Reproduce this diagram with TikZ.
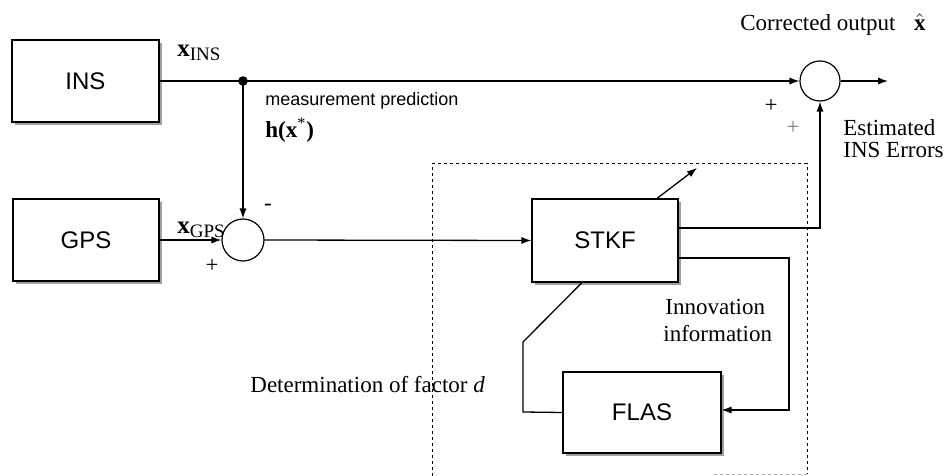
\documentclass[tikz,border=0pt]{standalone}
\usepackage{fontspec}
\setmainfont{Liberation Serif}
\setsansfont{Liberation Sans}
\usetikzlibrary{arrows.meta,shadows,calc}
\begin{document}
\begin{tikzpicture}[x=0.5pt,y=-0.5pt,
  box/.style={draw, line width=0.6pt, fill=white, font=\sffamily\fontsize{12}{14}\selectfont,
    drop shadow={shadow xshift=1.6pt, shadow yshift=-1.6pt, fill=gray!75, opacity=1}},
  sumnode/.style={draw, circle, line width=0.6pt, fill=white, inner sep=0pt},
  conn/.style={line width=0.65pt},
  arr/.style={conn, -{Latex[length=5pt,width=3.6pt]}},
  lbl/.style={font=\fontsize{11.5}{13}\selectfont, inner sep=0pt},
  slbl/.style={font=\sffamily\fontsize{9}{11}\selectfont, inner sep=0pt},
  sublbl/.style={inner sep=0pt},
  dashbox/.style={line width=0.5pt, dash pattern=on 1.5pt off 1.5pt}
]
\useasboundingbox (0,0) rectangle (948,476);

% dashed region
\draw[dashbox] (432,476) -- (432,164) -- (807,164) -- (807,474);
\draw[dashbox, gray!60] (807,474) -- (713,474);

% blocks
\node[box, minimum width=73.5pt, minimum height=41pt] (ins) at (85.5,81) {INS};
\node[box, minimum width=73pt, minimum height=41pt] (gps) at (86,240) {GPS};
\node[box, minimum width=73pt, minimum height=41.5pt] (stkf) at (605,240.5) {STKF};
\node[box, minimum width=79pt, minimum height=40.5pt] (flas) at (642,412.5) {FLAS};

\node[sumnode, minimum size=21pt] (sum1) at (243,240) {};
\node[sumnode, minimum size=20pt] (sum2) at (820,81) {};
\fill (243,81) circle (2.4pt);
\coordinate (dot) at (243,81);
\coordinate (out) at (888,81);

% connectors
\draw[arr] (ins.east) -- (sum2.west);
\draw[arr] (dot) -- (sum1.north);
\draw[arr] (gps.east) -- (sum1.west);
\draw[arr] (sum1.east) -- (stkf.west);
\draw[arr] (sum2.east) -- (out);
\draw[arr] ($(stkf.east)+(0,-12.5)$) -| (sum2.south);
\draw[arr] ($(stkf.east)+(0,17.5)$) -- (789,258) -- (789,410) -- ($(flas.east)+(0,-2.5)$);
\draw[conn] ($(stkf.south)+(-23,0)$) -- (523,342) -- (523,412) -- (flas.west);
\draw[arr] ($(stkf.north)+(52,0)$) -- (697,168);

% labels
\node[sublbl, anchor=west] (xins) at (177,53) {\fontsize{12.5}{14}\selectfont\textbf{x}\fontsize{9.5}{11}\selectfont\raisebox{-0.45ex}{INS}};
\node[sublbl, anchor=west] (xgps) at (177,230) {\fontsize{12.5}{14}\selectfont\textbf{x}\fontsize{9.5}{11}\selectfont\raisebox{-0.45ex}{GPS}};
\node[slbl, anchor=west] (mp) at (265,101) {measurement prediction};
\node[lbl, anchor=west] (hx) at (265,130) {\textbf{h(x}\textsuperscript{*}\textbf{)}};
\node[lbl] (minus) at (268,207) {-};
\node[lbl] (plus1) at (212,266) {+};
\node[lbl] (plus2) at (771,106) {+};
\node[lbl, text=gray] (plus3) at (793,128) {+};
\node[lbl, anchor=west] (co) at (740,25) {Corrected output\hspace{0.8em}$\hat{\mathbf{x}}$};
\node[lbl, anchor=west] (est) at (843,128) {Estimated};
\node[lbl, anchor=west] (inse) at (843,150) {INS Errors};
\node[lbl, anchor=west] (inno) at (665,307) {Innovation};
\node[lbl, anchor=west] (info) at (663,334) {information};
\node[lbl, anchor=west] (det) at (250,385) {Determination of factor \textit{d}};
\end{tikzpicture}
\end{document}
